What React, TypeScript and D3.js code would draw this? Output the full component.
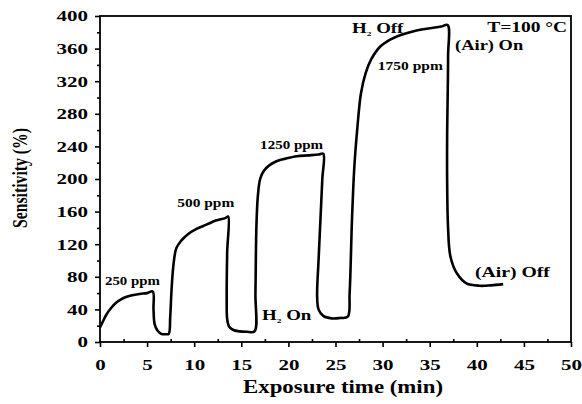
import { useEffect, useRef } from 'react'
import * as d3 from 'd3'

// sensor response trace
const timeMin = [
  0, 0.3, 0.7, 1.2, 1.8, 2.5, 3.3, 4.2, 5.0, 5.6, 5.68, 5.8, 6.1, 6.5, 7.0, 7.3,
  7.45, 7.6, 7.8, 8.1, 8.6, 9.3, 10.3, 11.3, 12.3, 13.3, 13.6, 13.5, 13.45, 13.5, 13.7, 14.1, 14.8, 15.6, 16.4,
  16.5, 16.6, 16.75, 17.0, 17.4, 18.0, 18.8, 19.7, 20.9, 22.1, 23.2, 23.7, 23.6, 23.4, 23.2, 23.05, 23.2, 23.7, 24.6, 25.5, 26.3,
  26.5, 26.75, 27.0, 27.3, 27.7, 28.2, 28.8, 29.7, 30.8, 32.0, 33.5, 35.0, 36.2, 36.9,
  36.95, 36.85, 36.85, 36.95, 37.2, 37.9, 38.9, 40.3, 41.5, 42.8,
]
const sensitivity = [
  18, 25, 34, 42, 49, 54, 57, 59, 60, 62, 40, 22, 14, 10, 9.5, 10,
  30, 65, 95, 115, 124, 132, 139, 144, 149, 152, 154, 110, 50, 28, 19, 15, 13, 12.5, 13,
  60, 140, 178, 200, 210, 217, 222, 225, 228, 229, 230, 231, 200, 150, 100, 56, 40, 32, 29, 29.5, 31,
  60, 150, 215, 260, 305, 330, 347, 362, 371, 377, 382, 385, 387, 389,
  350, 250, 200, 140, 105, 84, 72, 69, 69.5, 71,
]
const xTicks = d3.range(0, 55, 5)
const yTicks = d3.range(0, 440, 40)

const App = () => {
  const chart = useRef<SVGSVGElement>(null)

  useEffect(() => {
    const w = 582
    const h = 404
    const left = 100, right = 571, top = 16, bottom = 342
    const font = '"Liberation Serif", "Times New Roman", serif'

    const svg = d3.select(chart.current)
    svg.selectAll('*').remove()
    svg.attr('width', w).attr('height', h).style('background', '#fff')

    const x = d3.scaleLinear().domain([0, 50]).range([left, right])
    const y = d3.scaleLinear().domain([0, 400]).range([bottom, top])

    // minor ticks
    svg.append('g')
      .attr('transform', `translate(0,${bottom})`)
      .call(d3.axisBottom(x).tickValues(d3.range(2.5, 50, 5)).tickSize(-3).tickFormat(() => ''))
    svg.append('g')
      .attr('transform', `translate(${left},0)`)
      .call(d3.axisLeft(y).tickValues(d3.range(20, 400, 40)).tickSize(3).tickFormat(() => ''))

    // major ticks
    const xAxis = svg.append('g')
      .attr('transform', `translate(0,${bottom})`)
      .call(d3.axisBottom(x).tickValues(xTicks).tickSize(5).tickPadding(12))
    const yAxis = svg.append('g')
      .attr('transform', `translate(${left},0)`)
      .call(d3.axisLeft(y).tickValues(yTicks).tickSize(5).tickPadding(3.6))

    svg.selectAll('.domain').remove()
    svg.selectAll('.tick line').attr('stroke', '#000').attr('stroke-width', 1.6)
    ;[xAxis, yAxis].forEach(a => a.selectAll('text')
      .attr('font-family', font)
      .attr('font-weight', 'bold')
      .attr('font-size', 15)
      .attr('fill', '#000')
      .attr('transform', 'scale(1.4,1)'))

    // frame
    svg.append('rect')
      .attr('x', left).attr('y', top)
      .attr('width', right - left).attr('height', bottom - top)
      .attr('fill', 'none').attr('stroke', '#000').attr('stroke-width', 1.8)

    // response curve
    const pts: [number, number][] = timeMin.map((t, i) => [t, sensitivity[i]])
    const line = d3.line<[number, number]>()
      .x(d => x(d[0]))
      .y(d => y(d[1]))
      .curve(d3.curveCatmullRom.alpha(0.5))
    svg.append('path')
      .datum(pts)
      .attr('d', line)
      .attr('fill', 'none')
      .attr('stroke', '#000')
      .attr('stroke-width', 2.6)
      .attr('stroke-linejoin', 'round')

    // axis titles
    svg.append('text')
      .attr('x', 343).attr('y', 393)
      .attr('text-anchor', 'middle')
      .attr('font-family', font).attr('font-weight', 'bold').attr('font-size', 19)
      .attr('textLength', 200).attr('lengthAdjust', 'spacingAndGlyphs')
      .text('Exposure time (min)')
    svg.append('text')
      .attr('transform', 'translate(27,178) rotate(-90)')
      .attr('text-anchor', 'middle')
      .attr('font-family', font).attr('font-weight', 'bold').attr('font-size', 22)
      .attr('textLength', 100).attr('lengthAdjust', 'spacingAndGlyphs')
      .text('Sensitivity (%)')

    // plain labels: [text, t, value, width, size]
    const labels: [string, number, number, number, number][] = [
      ['250 ppm', 0.53, 70, 55, 11.5],
      ['500 ppm', 8.2, 166, 57, 11.5],
      ['1250 ppm', 17.0, 237, 63, 11.5],
      ['1750 ppm', 29.5, 334, 65, 11.5],
      ['T=100 °C', 41.1, 380, 80, 15],
      ['(Air) On', 37.7, 358, 68, 14],
      ['(Air) Off', 39.8, 80, 75, 14],
    ]
    labels.forEach(([s, t, v, tl, fs]) => {
      svg.append('text')
        .attr('x', x(t)).attr('y', y(v))
        .attr('font-family', font).attr('font-weight', 'bold').attr('font-size', fs)
        .attr('textLength', tl).attr('lengthAdjust', 'spacingAndGlyphs')
        .text(s)
    })

    // H2 labels with subscript
    const h2: [string, number, number][] = [
      [' Off', 26.75, 379],
      [' On', 17.2, 27],
    ]
    h2.forEach(([s, t, v]) => {
      const tx = svg.append('text')
        .attr('transform', `translate(${x(t)},${y(v)}) scale(1.35,1)`)
        .attr('font-family', font).attr('font-weight', 'bold').attr('font-size', 14)
      tx.append('tspan').text('H')
      tx.append('tspan').attr('font-size', 7).attr('dy', 3).text('2')
      tx.append('tspan').attr('dy', -3).text(s)
    })
  }, [])

  return (
    <div style={{ position: 'absolute', left: 0, top: 0 }}>
      <svg ref={chart}></svg>
    </div>
  )
}

export default App
